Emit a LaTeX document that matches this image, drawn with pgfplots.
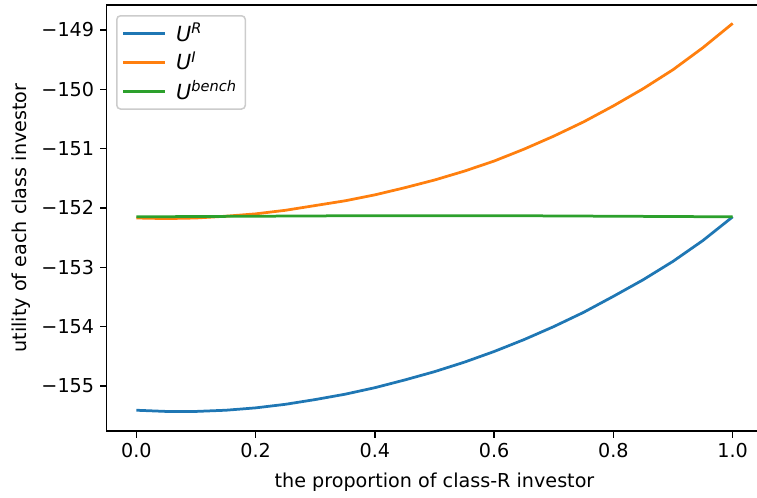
\documentclass[border=0pt]{standalone}
\usepackage{fontspec}
\setmainfont{DejaVu Sans}
\usepackage{pgfplots}
\pgfplotsset{compat=1.18}
\definecolor{c0}{HTML}{1F77B4}
\definecolor{c1}{HTML}{FF7F0E}
\definecolor{c2}{HTML}{2CA02C}
\begin{document}
\begin{tikzpicture}
\useasboundingbox (-63.9pt,-39.6pt) rectangle (390.3pt,258.6pt);
\begin{axis}[
  at={(0,0)}, anchor=south west,
  scale only axis, width=393.6pt, height=255.6pt,
  xmin=-0.05, xmax=1.05, ymin=-155.76, ymax=-148.58,
  axis line style={line width=0.9pt},
  tick align=outside, tick pos=left,
  major tick length=3.9pt,
  every tick/.style={black, line width=0.9pt},
  xtick={0,0.2,0.4,0.6,0.8,1.0},
  xticklabels={0.0,0.2,0.4,0.6,0.8,1.0},
  ytick={-155,-154,-153,-152,-151,-150,-149},
  yticklabels={−155,−154,−153,−152,−151,−150,−149},
  ticklabel style={font=\fontsize{11.5}{13}\selectfont},
  label style={font=\fontsize{11.5}{13}\selectfont},
  xlabel={the proportion of class-R investor},
  xlabel style={yshift=-2pt},
  ylabel={utility of each class investor},
  legend style={at={(0.0145,0.9765)}, anchor=north west, draw=black!20,
    line width=0.9pt, rounded corners=2.3pt,
    font=\fontsize{12.5}{14}\selectfont,
    inner xsep=3pt, inner ysep=2.5pt, row sep=1pt, column sep=4pt,
    cells={anchor=west}},
  legend image code/.code={\draw[#1, line width=1.65pt] (0pt,0pt) -- (25pt,0pt);},
]
\addplot[c0, line width=1.65pt] coordinates {
(0,-155.41) (0.05,-155.43) (0.1,-155.43) (0.15,-155.41) (0.2,-155.37)
(0.25,-155.31) (0.3,-155.23) (0.35,-155.14) (0.4,-155.03) (0.45,-154.90)
(0.5,-154.76) (0.55,-154.60) (0.6,-154.42) (0.65,-154.22) (0.7,-154.00)
(0.75,-153.76) (0.8,-153.49) (0.85,-153.21) (0.9,-152.90) (0.95,-152.55)
(1.0,-152.15)};
\addlegendentry{\itshape U\textsuperscript{R}}
\addplot[c1, line width=1.65pt] coordinates {
(0,-152.17) (0.05,-152.18) (0.1,-152.17) (0.15,-152.14) (0.2,-152.10)
(0.25,-152.04) (0.3,-151.96) (0.35,-151.88) (0.4,-151.78) (0.45,-151.66)
(0.5,-151.53) (0.55,-151.38) (0.6,-151.21) (0.65,-151.01) (0.7,-150.79)
(0.75,-150.55) (0.8,-150.28) (0.85,-149.99) (0.9,-149.67) (0.95,-149.30)
(1.0,-148.89)};
\addlegendentry{\itshape U\textsuperscript{I}}
\addplot[c2, line width=1.65pt] coordinates {
(0,-152.15) (0.1,-152.145) (0.2,-152.14) (0.3,-152.135) (0.4,-152.13)
(0.5,-152.13) (0.6,-152.13) (0.7,-152.135) (0.8,-152.14) (0.9,-152.145)
(1.0,-152.15)};
\addlegendentry{\itshape U\textsuperscript{bench}}
\end{axis}
\end{tikzpicture}
\end{document}
